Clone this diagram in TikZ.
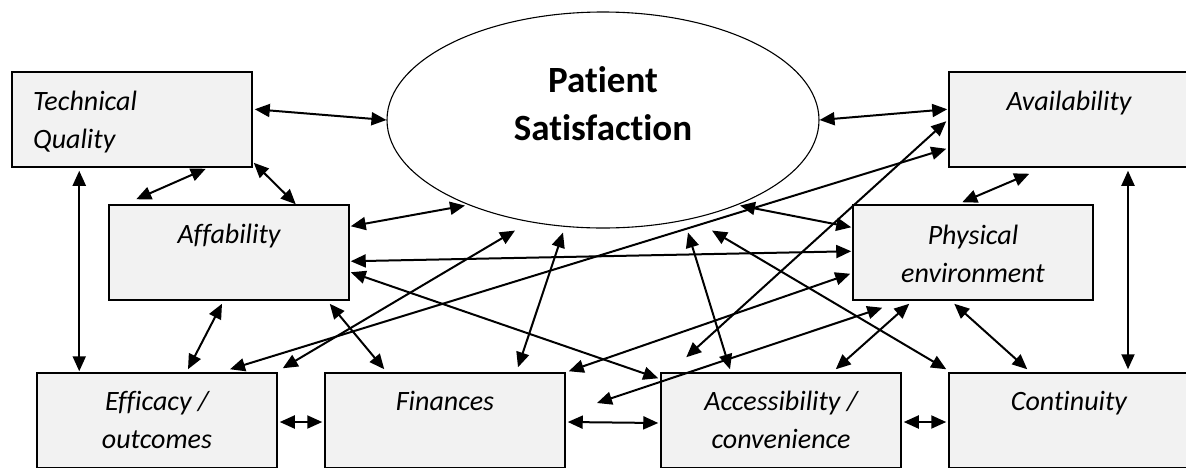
\documentclass[tikz,border=0pt]{standalone}
\usepackage{fontspec}
\setmainfont{Carlito}[Ligatures=NoCommon]
\usetikzlibrary{arrows.meta,shapes.geometric}
\definecolor{boxgray}{HTML}{F2F2F2}
\tikzset{
    factor/.style={draw, line width=1.5pt, fill=boxgray,
        minimum width=240pt, minimum height=95pt, inner sep=0pt},
    lbl/.style={font=\itshape\fontsize{28}{38}\selectfont,
        align=center, inner sep=0pt, anchor=base},
    link/.style={line width=2pt,
        {Triangle[length=15pt,width=13pt]}-{Triangle[length=15pt,width=13pt]}},
}
\begin{document}
\begin{tikzpicture}[x=1pt, y=-1pt]
            \useasboundingbox (0,0) rectangle (1186,467);

            % satisfaction in the middle
            \node[
                draw,
                ellipse,
                line width=1.1pt,
                minimum width=432pt,
                minimum height=216pt,
                name=ps
            ] at (603,120) {};
            \node[
                font=\bfseries\fontsize{37}{48}\selectfont,
                align=center,
                inner sep=0pt,
                anchor=base,
                name=ps-txt
            ] at (603,140) {Patient\\Satisfaction};

            % factor boxes
            \node[factor, name=tq] at (132,119.5) {};
            \node[factor, name=af] at (229,252.5) {};
            \node[factor, name=av] at (1069,119.5) {};
            \node[factor, name=pe] at (973,252.5) {};
            \node[factor, name=ef] at (157,420.5) {};
            \node[factor, name=fi] at (445,420.5) {};
            \node[factor, name=ac] at (781,420.5) {};
            \node[factor, name=co] at (1069,420.5) {};

            % labels (base = last line)
            \node[lbl, align=left, anchor=base west, name=tq-txt] at (33,148) {Technical\\Quality};
            \node[lbl, name=af-txt] at (229,243) {Affability};
            \node[lbl, name=av-txt] at (1069,110) {Availability};
            \node[lbl, name=pe-txt] at (973,282) {Physical\\environment};
            \node[lbl, name=ef-txt] at (157,448) {Efficacy /\\outcomes};
            \node[lbl, name=fi-txt] at (445,410) {Finances};
            \node[lbl, name=ac-txt] at (781,448) {Accessibility /\\convenience};
            \node[lbl, name=co-txt] at (1069,410) {Continuity};

            \coordinate (gap) at (597,403);

            % links to satisfaction
            \draw[link] ([shift={(2,38)}]tq.north east) -- (ps.west);
            \draw[link] ([shift={(1,22)}]af.north east) -- ([shift={(-138,-23)}]ps.south);
            \draw[link] ([shift={(5,-4)}]ef.north east) -- ([shift={(-88,2)}]ps.south);
            \draw[link] ([shift={(73,-5)}]fi.north) -- ([shift={(-40,4)}]ps.south);
            \draw[link] ([shift={(-51,-3)}]ac.north) -- ([shift={(85,4)}]ps.south);
            \draw[link] ([shift={(-2,-3)}]co.north west) -- ([shift={(109,2)}]ps.south);
            \draw[link] ([shift={(-1,23)}]pe.north west) -- ([shift={(137,-23)}]ps.south);
            \draw[link] (ps.east) -- ([shift={(-1,38)}]av.north west);

            % links between the factors
            \draw[link] ([shift={(-47,1)}]tq.south east) -- ([shift={(28,-5)}]af.north west);
            \draw[link] ([shift={(1,-5)}]tq.south east) -- ([shift={(-54,0)}]af.north east);
            \draw[link] ([shift={(68,3)}]tq.south west) -- ([shift={(43,-1)}]ef.north west);

            \draw[link] ([shift={(1,57)}]af.north east) -- ([shift={(-1,47)}]pe.north west);
            \draw[link] ([shift={(1,68)}]af.north east) -- ([shift={(-2,6)}]ac.north west);
            \draw[link] ([shift={(-7,3)}]af.south) -- ([shift={(31,-3)}]ef.north);
            \draw[link] ([shift={(-20,3)}]af.south east) -- ([shift={(60,-3)}]fi.north west);

            \draw[link] ([shift={(73,-3)}]ef.north) -- ([shift={(-2,-19)}]av.south west);
            \draw[link] ([shift={(3,-1)}]fi.north east) -- ([shift={(-2,-27)}]pe.south west);
            \draw[link] ([shift={(26,-15)}]ac.north west) -- ([shift={(-2,50)}]av.north west);

            \draw[link] ([shift={(110,-2)}]pe.north west) -- ([shift={(81,6)}]av.south west);
            \draw[link] ([shift={(59,3)}]av.south) -- ([shift={(59,-3)}]co.north);
            \draw[link] ([shift={(102,3)}]pe.south west) -- ([shift={(79,-3)}]co.north west);
            \draw[link] ([shift={(57,3)}]pe.south west) -- ([shift={(-66,-3)}]ac.north east);
            \draw[link] ([shift={(30,7)}]pe.south west) -- (gap);

            % bottom row
            \draw[link] ([shift={(2,1.5)}]ef.east) -- ([shift={(-2,1.5)}]fi.west);
            \draw[link] ([shift={(2,1.5)}]fi.east) -- ([shift={(-2,2.5)}]ac.west);
            \draw[link] ([shift={(2,1.5)}]ac.east) -- ([shift={(-2,1.5)}]co.west);
\end{tikzpicture}
\end{document}
